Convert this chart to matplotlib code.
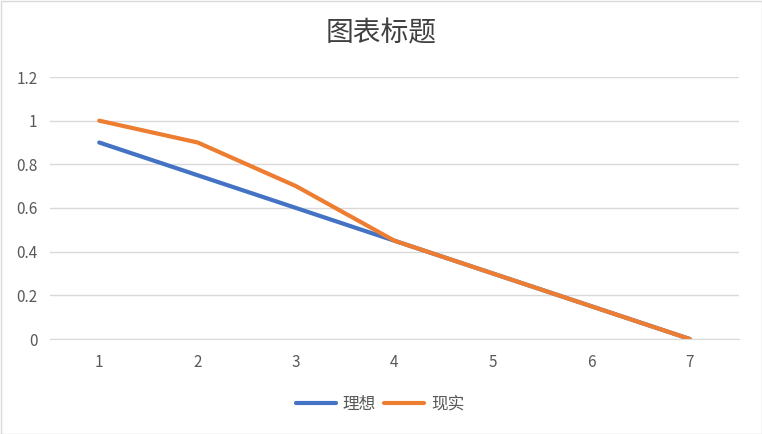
import matplotlib.pyplot as plt
from matplotlib.patches import Rectangle

plt.rcParams['font.family'] = ['Noto Sans CJK SC', 'DejaVu Sans']

# data
x_labels = [1, 2, 3, 4, 5, 6, 7]
ideal = [0.9, 0.75, 0.6, 0.45, 0.3, 0.15, 0.0]
real = [1.0, 0.9, 0.7, 0.45, 0.3, 0.15, 0.0]
y_ticks = [0, 0.2, 0.4, 0.6, 0.8, 1, 1.2]

fig = plt.figure(figsize=(7.62, 4.34), dpi=100)
ax = fig.add_axes([50 / 762, 1 - 339 / 434, (739 - 50) / 762, (339 - 77) / 434])

ax.plot(x_labels, ideal, color='#4472C4', linewidth=3, label='理想', solid_capstyle='round')
ax.plot(x_labels, real, color='#ED7D31', linewidth=3, label='现实', solid_capstyle='round')

ax.set_xlim(0.5, 7.5)
ax.set_ylim(0, 1.2)
ax.set_yticks(y_ticks)
ax.set_yticklabels([str(v) for v in y_ticks])
ax.set_xticks(x_labels)
ax.grid(axis='y', color='#D9D9D9', linewidth=1)
ax.set_axisbelow(True)
for s in ['top', 'right', 'left']:
    ax.spines[s].set_visible(False)
ax.spines['bottom'].set_color('#D9D9D9')
ax.tick_params(length=0, labelsize=11, colors='#595959')
ax.tick_params(axis='y', pad=9)
ax.tick_params(axis='x', pad=11)

fig.text(0.5, 1 - 33 / 434, '图表标题', ha='center', va='center', fontsize=20, color='#404040')

fig.legend(loc='center', bbox_to_anchor=(380 / 762, 1 - 404 / 434), ncol=2, frameon=False,
           fontsize=12, handlelength=2.4, columnspacing=0.5, handletextpad=0.4,
           labelcolor='#595959')

fig.patches.append(Rectangle((0.5 / 762, 0.5 / 434), 1 - 1 / 762, 1 - 1 / 434,
                             transform=fig.transFigure, fill=False,
                             edgecolor='#D9D9D9', linewidth=1))

fig.savefig('out.png', dpi=100)
